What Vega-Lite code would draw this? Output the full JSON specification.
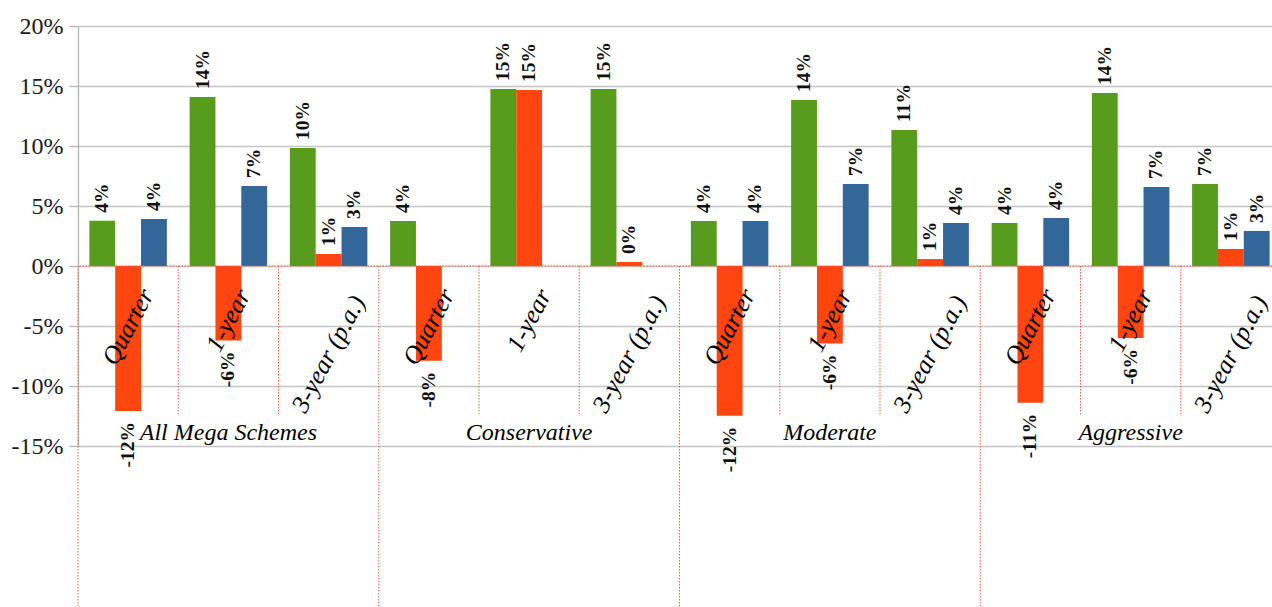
{
  "$schema": "https://vega.github.io/schema/vega-lite/v6.json",
  "width": 1194,
  "height": 420,
  "autosize": {"type": "none"},
  "padding": {"left": 78, "top": 26, "right": 0, "bottom": 161},
  "background": "white",
  "config": {
    "view": {"stroke": null},
    "locale": {"number": {"decimal": ".", "thousands": ",", "grouping": [3], "currency": ["$", ""], "minus": "-"}}
  },
  "datasets": {
    "bars": [
      {"key": "All Mega Schemes / Quarter", "series": "Series 1", "value": 0.0378},
      {"key": "All Mega Schemes / Quarter", "series": "Series 2", "value": -0.1208},
      {"key": "All Mega Schemes / Quarter", "series": "Series 3", "value": 0.0392},
      {"key": "All Mega Schemes / 1-year", "series": "Series 1", "value": 0.1408},
      {"key": "All Mega Schemes / 1-year", "series": "Series 2", "value": -0.062},
      {"key": "All Mega Schemes / 1-year", "series": "Series 3", "value": 0.0667},
      {"key": "All Mega Schemes / 3-year (p.a.)", "series": "Series 1", "value": 0.0983},
      {"key": "All Mega Schemes / 3-year (p.a.)", "series": "Series 2", "value": 0.01},
      {"key": "All Mega Schemes / 3-year (p.a.)", "series": "Series 3", "value": 0.0325},
      {"key": "Conservative / Quarter", "series": "Series 1", "value": 0.0375},
      {"key": "Conservative / Quarter", "series": "Series 2", "value": -0.079},
      {"key": "Conservative / 1-year", "series": "Series 1", "value": 0.1475},
      {"key": "Conservative / 1-year", "series": "Series 2", "value": 0.1467},
      {"key": "Conservative / 3-year (p.a.)", "series": "Series 1", "value": 0.1475},
      {"key": "Conservative / 3-year (p.a.)", "series": "Series 2", "value": 0.0033},
      {"key": "Moderate / Quarter", "series": "Series 1", "value": 0.0375},
      {"key": "Moderate / Quarter", "series": "Series 2", "value": -0.1247},
      {"key": "Moderate / Quarter", "series": "Series 3", "value": 0.0375},
      {"key": "Moderate / 1-year", "series": "Series 1", "value": 0.1383},
      {"key": "Moderate / 1-year", "series": "Series 2", "value": -0.0645},
      {"key": "Moderate / 1-year", "series": "Series 3", "value": 0.0683},
      {"key": "Moderate / 3-year (p.a.)", "series": "Series 1", "value": 0.1133},
      {"key": "Moderate / 3-year (p.a.)", "series": "Series 2", "value": 0.0058},
      {"key": "Moderate / 3-year (p.a.)", "series": "Series 3", "value": 0.0358},
      {"key": "Aggressive / Quarter", "series": "Series 1", "value": 0.0358},
      {"key": "Aggressive / Quarter", "series": "Series 2", "value": -0.114},
      {"key": "Aggressive / Quarter", "series": "Series 3", "value": 0.04},
      {"key": "Aggressive / 1-year", "series": "Series 1", "value": 0.1442},
      {"key": "Aggressive / 1-year", "series": "Series 2", "value": -0.06},
      {"key": "Aggressive / 1-year", "series": "Series 3", "value": 0.0658},
      {"key": "Aggressive / 3-year (p.a.)", "series": "Series 1", "value": 0.0683},
      {"key": "Aggressive / 3-year (p.a.)", "series": "Series 2", "value": 0.0142},
      {"key": "Aggressive / 3-year (p.a.)", "series": "Series 3", "value": 0.0292}
    ],
    "groups": [
      {"key": "All Mega Schemes / Quarter", "category": "All Mega Schemes", "period": "Quarter"},
      {"key": "All Mega Schemes / 1-year", "category": "All Mega Schemes", "period": "1-year"},
      {"key": "All Mega Schemes / 3-year (p.a.)", "category": "All Mega Schemes", "period": "3-year (p.a.)"},
      {"key": "Conservative / Quarter", "category": "Conservative", "period": "Quarter"},
      {"key": "Conservative / 1-year", "category": "Conservative", "period": "1-year"},
      {"key": "Conservative / 3-year (p.a.)", "category": "Conservative", "period": "3-year (p.a.)"},
      {"key": "Moderate / Quarter", "category": "Moderate", "period": "Quarter"},
      {"key": "Moderate / 1-year", "category": "Moderate", "period": "1-year"},
      {"key": "Moderate / 3-year (p.a.)", "category": "Moderate", "period": "3-year (p.a.)"},
      {"key": "Aggressive / Quarter", "category": "Aggressive", "period": "Quarter"},
      {"key": "Aggressive / 1-year", "category": "Aggressive", "period": "1-year"},
      {"key": "Aggressive / 3-year (p.a.)", "category": "Aggressive", "period": "3-year (p.a.)"}
    ]
  },
  "layer": [
    {
      "data": {"name": "bars"},
      "mark": {"type": "bar", "cornerRadius": 0},
      "encoding": {
        "x": {"field": "key", "type": "nominal", "axis": null,
          "scale": {"domain": ["All Mega Schemes / Quarter", "All Mega Schemes / 1-year", "All Mega Schemes / 3-year (p.a.)", "Conservative / Quarter", "Conservative / 1-year", "Conservative / 3-year (p.a.)", "Moderate / Quarter", "Moderate / 1-year", "Moderate / 3-year (p.a.)", "Aggressive / Quarter", "Aggressive / 1-year", "Aggressive / 3-year (p.a.)"],
            "range": [0, 1203], "paddingInner": 0, "paddingOuter": 0}},
        "xOffset": {"field": "series", "type": "nominal",
          "scale": {"domain": ["Series 1", "Series 2", "Series 3"], "paddingInner": 0, "paddingOuter": 0.44}},
        "y": {"field": "value", "type": "quantitative",
          "scale": {"domain": [-0.15, 0.2], "nice": false, "zero": false},
          "axis": {"values": [-0.15, -0.1, -0.05, 0, 0.05, 0.1, 0.15, 0.2], "format": ".0%", "title": null,
            "labelFont": "Liberation Serif", "labelFontSize": 24, "labelColor": "#1a1a1a", "labelPadding": 6,
            "tickSize": 9, "tickColor": "#B4B4B4", "tickWidth": 1.3,
            "domainColor": "#B4B4B4", "domainWidth": 1.3,
            "gridColor": "#C4C4C4", "gridWidth": 1.4}},
        "color": {"field": "series", "type": "nominal", "legend": null,
          "scale": {"domain": ["Series 1", "Series 2", "Series 3"], "range": ["#589C1E", "#FF4510", "#336699"]}}
      }
    },
    {
      "data": {"name": "groups"},
      "transform": [{"filter": "datum.period !== 'Quarter'"}],
      "mark": {"type": "rule", "color": "#F2603F", "strokeWidth": 1, "strokeDash": [1.5, 1.5]},
      "encoding": {
        "x": {"field": "key", "type": "nominal", "bandPosition": 0},
        "y": {"datum": 0, "type": "quantitative"},
        "y2": {"datum": -0.1236}
      }
    },
    {
      "data": {"name": "groups"},
      "transform": [{"filter": "datum.period === 'Quarter'"}],
      "mark": {"type": "rule", "color": "#F2603F", "strokeWidth": 1, "strokeDash": [1.5, 1.5]},
      "encoding": {
        "x": {"field": "key", "type": "nominal", "bandPosition": 0},
        "y": {"datum": 0, "type": "quantitative"},
        "y2": {"datum": -0.284}
      }
    },
    {
      "data": {"values": [{}]},
      "mark": {"type": "rule", "color": "#F2603F", "strokeWidth": 1.2, "strokeDash": [1.5, 1.5]},
      "encoding": {"y": {"datum": 0, "type": "quantitative"}}
    },
    {
      "data": {"name": "bars"},
      "transform": [{"filter": "datum.value >= 0"}],
      "mark": {"type": "text", "angle": -90, "align": "left", "baseline": "middle", "dx": 8,
        "font": "Liberation Serif", "fontWeight": "bold", "fontSize": 19.5, "color": "#111111"},
      "encoding": {
        "x": {"field": "key", "type": "nominal"},
        "xOffset": {"field": "series", "type": "nominal"},
        "y": {"field": "value", "type": "quantitative"},
        "text": {"field": "value", "type": "quantitative", "format": ".0%"}
      }
    },
    {
      "data": {"name": "bars"},
      "transform": [{"filter": "datum.value < 0"}],
      "mark": {"type": "text", "angle": -90, "align": "right", "baseline": "middle", "dx": -11,
        "font": "Liberation Serif", "fontWeight": "bold", "fontSize": 19.5, "color": "#111111"},
      "encoding": {
        "x": {"field": "key", "type": "nominal"},
        "xOffset": {"field": "series", "type": "nominal"},
        "y": {"field": "value", "type": "quantitative"},
        "text": {"field": "value", "type": "quantitative", "format": ".0%"}
      }
    },
    {
      "data": {"name": "groups"},
      "transform": [{"filter": "datum.period === 'Quarter'"}],
      "mark": {"type": "text", "angle": -62, "align": "center", "baseline": "middle",
        "font": "Liberation Serif", "fontStyle": "italic", "fontSize": 25.5, "color": "#000000"},
      "encoding": {
        "x": {"field": "key", "type": "nominal"},
        "y": {"datum": -0.0508, "type": "quantitative"},
        "text": {"field": "period"}
      }
    },
    {
      "data": {"name": "groups"},
      "transform": [{"filter": "datum.period === '1-year'"}],
      "mark": {"type": "text", "angle": -62, "align": "center", "baseline": "middle",
        "font": "Liberation Serif", "fontStyle": "italic", "fontSize": 25.5, "color": "#000000"},
      "encoding": {
        "x": {"field": "key", "type": "nominal"},
        "y": {"datum": -0.0454, "type": "quantitative"},
        "text": {"field": "period"}
      }
    },
    {
      "data": {"name": "groups"},
      "transform": [{"filter": "datum.period === '3-year (p.a.)'"}],
      "mark": {"type": "text", "angle": -62, "align": "center", "baseline": "middle",
        "font": "Liberation Serif", "fontStyle": "italic", "fontSize": 25.5, "color": "#000000"},
      "encoding": {
        "x": {"field": "key", "type": "nominal"},
        "y": {"datum": -0.0733, "type": "quantitative"},
        "text": {"field": "period"}
      }
    },
    {
      "data": {"name": "groups"},
      "transform": [{"filter": "datum.period === '1-year'"}],
      "mark": {"type": "text", "align": "center", "baseline": "alphabetic",
        "font": "Liberation Serif", "fontStyle": "italic", "fontSize": 24, "color": "#000000"},
      "encoding": {
        "x": {"field": "key", "type": "nominal"},
        "y": {"datum": -0.145, "type": "quantitative"},
        "text": {"field": "category"}
      }
    }
  ]
}
